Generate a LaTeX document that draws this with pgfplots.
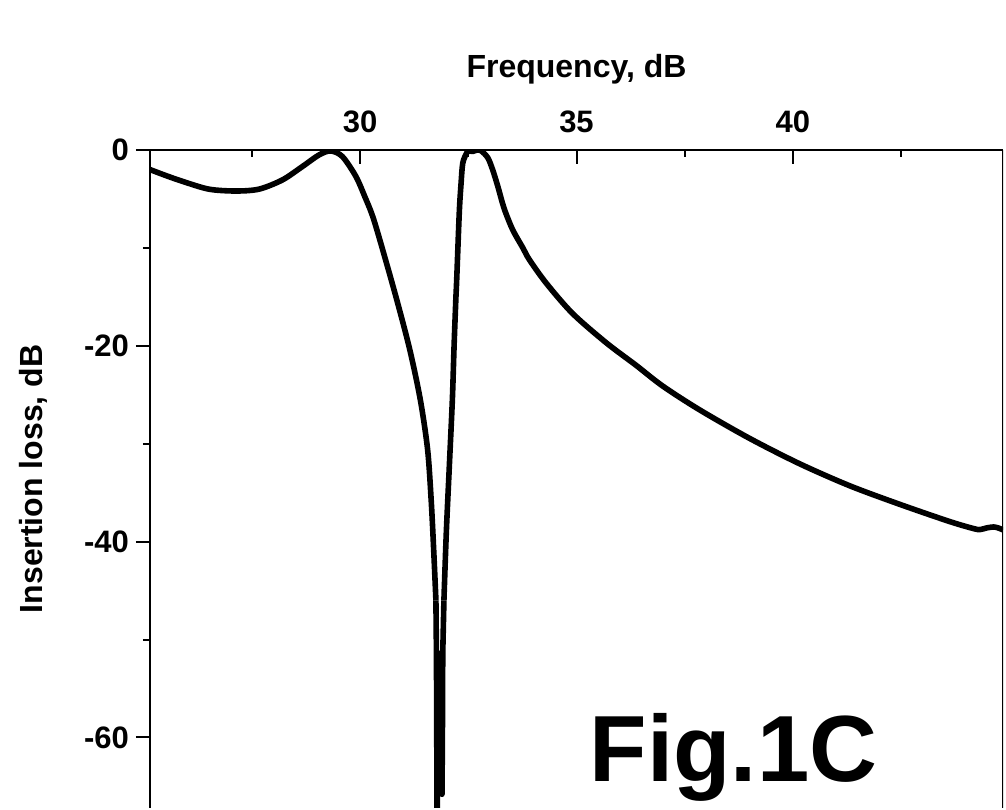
\documentclass[border=0pt]{standalone}
\usepackage{fontspec}
\setmainfont{Liberation Sans}
\usepackage{pgfplots}
\pgfplotsset{compat=1.18}

\begin{document}
\begin{tikzpicture}
\begin{axis}[
    name=ax,
    scale only axis,
    width=426.5pt, height=329pt,
    xmin=25.14, xmax=44.86,
    ymin=-67.2, ymax=0,
    axis x line*=top,
    axis y line*=left,
    axis line style={line width=1.1pt},
    xtick={30,35,40}, xticklabels={30,35,40},
    minor xtick={27.5,32.5,37.5,42.5},
    ytick={-60,-40,-20,0}, yticklabels={-60,-40,-20,0},
    minor ytick={-50,-30,-10},
    xtick align=inside, ytick align=outside,
    major tick length=7pt, minor tick length=3.5pt,
    every tick/.style={black, line width=1pt},
    tick label style={font=\fontsize{15.5}{18}\selectfont\bfseries},
    xticklabel style={yshift=5pt},
    every axis x label/.style={at={(axis description cs:0.5,1.1094)}, anchor=base},
    every axis y label/.style={at={(axis description cs:-0.1372,0.5)}, rotate=90, anchor=center},
    label style={font=\fontsize{16}{18}\selectfont\bfseries},
    xlabel={Frequency, dB},
    ylabel={Insertion loss, dB},
]
% left part, up to the notch
\addplot[black, line width=2.8pt, line join=round, smooth, tension=0.5] table {
x y
25.14 -2.0
25.50 -2.6
25.89 -3.2
26.50 -4.0
27.12 -4.19
27.66 -4.0
28.20 -3.06
28.66 -1.7
29.05 -0.5
29.32 -0.1
29.59 -0.68
29.90 -2.7
30.10 -4.7
30.29 -6.8
30.52 -10.2
30.845 -15.3
31.146 -20.4
31.389 -25.5
31.558 -30.6
31.641 -35.8
31.699 -40.9
31.750 -46.0
};
% notch
\addplot[black, line width=2.8pt, line join=round] table {
x y
31.750 -46.0
31.762 -51.4
31.770 -60.0
31.775 -75.0
31.785 -60.0
31.800 -54.0
31.825 -51.4
31.850 -56.0
31.875 -62.0
31.890 -65.8
31.900 -60.0
31.908 -51.4
31.935 -46.0
};
% right part
\addplot[black, line width=2.8pt, line join=round, smooth, tension=0.5] table {
x y
31.935 -46.0
31.990 -39.1
32.060 -32.3
32.130 -25.5
32.170 -20.0
32.210 -15.3
32.230 -13.3
32.290 -6.4
32.330 -3.5
32.370 -1.36
32.450 -0.4
32.500 -0.1
32.600 -0.15
32.700 0.0
32.800 -0.1
32.950 -0.8
33.06 -2.0
33.18 -3.7
33.29 -5.45
33.37 -6.5
33.53 -8.2
33.76 -10.0
33.91 -11.2
34.30 -13.6
34.91 -16.7
35.69 -19.7
36.38 -22.0
36.99 -24.1
37.85 -26.55
39.00 -29.45
40.16 -32.05
41.32 -34.3
42.48 -36.2
43.63 -37.95
44.21 -38.7
44.35 -38.75
44.48 -38.6
44.64 -38.5
44.75 -38.6
44.86 -38.8
};
\draw[line width=1.1pt] (rel axis cs:1,0) -- (rel axis cs:1,1);
\node[anchor=base west, inner sep=0pt, font=\fontsize{47}{50}\selectfont\bfseries]
    at (axis cs:35.30,-64.45) {Fig.1C};
\end{axis}
\path (ax.south west) ++(-75pt,-1pt);
\path (ax.north east) ++(1.5pt,75pt);
\end{tikzpicture}
\end{document}
